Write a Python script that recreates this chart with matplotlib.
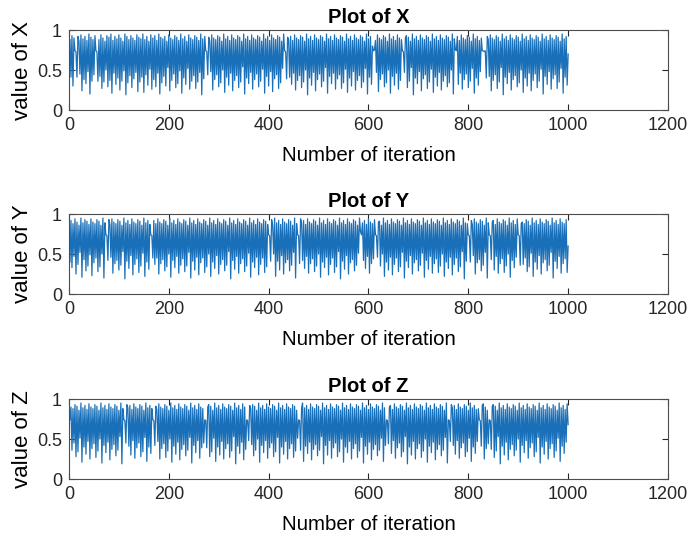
import matplotlib
matplotlib.use("Agg")
import matplotlib.pyplot as plt
import numpy as np

plt.rcParams["font.family"] = ["Liberation Sans", "DejaVu Sans"]

# values (in %), one sample per 2 iterations
x_vals = [
    88, 41, 93, 30, 90, 74, 73, 41, 92, 86, 45, 94, 24, 89, 38, 92, 33, 87, 48, 95, 20, 91, 36, 88, 44,
    93, 74, 73, 36, 88, 42, 94, 27, 90, 35, 86, 50, 93, 29, 91, 37, 95, 21, 87, 46, 92, 32, 89, 40, 94,
    25, 90, 36, 86, 49, 95, 19, 92, 34, 88, 43, 93, 28, 90, 39, 87, 47, 94, 23, 91, 35, 89, 41, 95, 22,
    88, 44, 92, 31, 86, 51, 94, 26, 90, 38, 93, 29, 87, 46, 95, 20, 91, 34, 89, 42, 92, 30, 86, 53, 94,
    24, 90, 37, 88, 45, 93, 28, 91, 33, 87, 49, 95, 21, 89, 40, 92, 32, 86, 52, 94, 26, 90, 36, 88, 43,
    93, 27, 91, 35, 87, 47, 95, 19, 89, 39, 92, 74, 73, 44, 91, 86, 48, 94, 25, 90, 38, 88, 44, 93, 29,
    91, 34, 86, 50, 95, 22, 89, 41, 92, 31, 87, 46, 94, 24, 90, 37, 88, 43, 93, 28, 91, 35, 86, 54, 95,
    20, 89, 40, 92, 33, 87, 47, 94, 26, 90, 38, 88, 45, 93, 29, 91, 36, 86, 51, 95, 21, 89, 42, 92, 30,
    87, 48, 94, 23, 90, 39, 88, 44, 93, 27, 91, 34, 86, 52, 95, 74, 73, 39, 91, 88, 41, 92, 32, 87, 46,
    94, 25, 90, 37, 88, 43, 93, 28, 91, 35, 86, 50, 95, 19, 89, 40, 92, 31, 87, 47, 94, 24, 90, 38, 88,
    45, 93, 29, 91, 36, 86, 53, 95, 21, 89, 42, 92, 33, 87, 46, 94, 26, 90, 39, 88, 44, 93, 27, 91, 34,
    86, 51, 95, 22, 89, 40, 92, 30, 87, 48, 94, 25, 90, 37, 88, 43, 93, 28, 91, 35, 86, 52, 95, 20, 89,
    41, 92, 32, 80, 74, 75, 87, 47, 94, 23, 90, 38, 88, 45, 93, 29, 91, 34, 86, 50, 95, 21, 89, 42, 92,
    31, 87, 46, 94, 26, 90, 37, 88, 74, 73, 47, 90, 93, 28, 91, 36, 86, 53, 95, 19, 89, 40, 92, 33, 87,
    48, 94, 24, 90, 39, 88, 44, 93, 27, 91, 35, 86, 51, 95, 22, 89, 41, 92, 30, 87, 47, 94, 25, 90, 36,
    88, 43, 93, 29, 91, 34, 86, 50, 95, 20, 89, 76, 74, 92, 32, 87, 46, 94, 26, 90, 38, 88, 45, 93, 28,
    91, 36, 86, 52, 95, 21, 89, 40, 92, 31, 87, 48, 90, 74, 74, 73, 74, 40, 92, 88, 42, 94, 24, 90, 37,
    88, 44, 93, 27, 91, 35, 86, 53, 95, 19, 89, 41, 92, 33, 87, 47, 94, 25, 90, 38, 88, 43, 93, 29, 91,
    34, 86, 50, 95, 22, 89, 40, 92, 30, 87, 46, 94, 24, 90, 37, 88, 45, 93, 28, 91, 36, 86, 51, 95, 20,
    89, 42, 92, 32, 87, 48, 94, 26, 90, 39, 88, 44, 93, 27, 91, 35, 86, 52, 95, 21, 89, 41, 92, 31, 70,
]

y_vals = [
    40, 92, 33, 88, 47, 94, 25, 90, 37, 86, 52, 95, 21, 89, 43, 93, 29, 91, 35, 87, 49, 94, 23, 90, 39,
    88, 45, 93, 28, 91, 34, 86, 50, 95, 20, 89, 74, 73, 42, 93, 87, 46, 94, 26, 90, 38, 88, 42, 93, 30,
    91, 36, 86, 53, 95, 19, 89, 41, 92, 32, 87, 48, 94, 24, 90, 37, 88, 44, 93, 27, 91, 35, 86, 51, 95,
    22, 89, 40, 92, 31, 87, 74, 73, 45, 92, 37, 88, 45, 94, 25, 90, 38, 88, 43, 93, 29, 91, 34, 86, 50,
    95, 21, 89, 42, 92, 33, 87, 47, 94, 26, 90, 36, 88, 44, 93, 28, 91, 35, 86, 52, 95, 20, 89, 41, 92,
    30, 87, 46, 94, 24, 90, 39, 88, 45, 93, 27, 91, 34, 86, 50, 95, 22, 89, 40, 92, 32, 87, 48, 94, 25,
    90, 37, 88, 43, 93, 29, 91, 36, 86, 53, 95, 19, 89, 42, 92, 31, 87, 47, 94, 26, 90, 38, 88, 44, 93,
    28, 91, 35, 86, 51, 95, 21, 89, 40, 92, 33, 87, 46, 94, 24, 90, 37, 88, 45, 93, 27, 91, 34, 87, 74,
    73, 41, 93, 86, 50, 95, 22, 89, 41, 92, 30, 87, 48, 94, 25, 90, 39, 88, 43, 93, 29, 91, 36, 86, 52,
    95, 20, 88, 74, 73, 38, 94, 89, 42, 92, 32, 87, 47, 94, 26, 90, 38, 88, 44, 93, 28, 91, 35, 86, 50,
    95, 21, 89, 40, 92, 33, 87, 46, 94, 24, 90, 37, 88, 45, 93, 27, 91, 34, 86, 53, 95, 19, 89, 41, 92,
    31, 87, 48, 94, 25, 90, 39, 88, 43, 93, 29, 91, 36, 86, 51, 95, 78, 74, 89, 42, 92, 32, 87, 47, 94,
    26, 90, 38, 88, 44, 93, 74, 73, 46, 90, 91, 35, 86, 50, 95, 22, 89, 40, 92, 30, 87, 46, 94, 24, 90,
    37, 88, 45, 93, 28, 91, 34, 86, 52, 95, 20, 89, 41, 92, 33, 87, 48, 94, 25, 90, 39, 88, 43, 93, 29,
    91, 36, 86, 51, 95, 21, 89, 42, 92, 31, 87, 47, 94, 26, 90, 38, 88, 44, 93, 27, 91, 35, 86, 50, 95,
    22, 89, 40, 92, 32, 87, 46, 94, 24, 90, 37, 88, 45, 93, 28, 91, 34, 86, 53, 95, 19, 89, 41, 88, 74,
    73, 40, 92, 87, 48, 94, 25, 90, 39, 88, 43, 93, 29, 91, 36, 86, 52, 95, 20, 89, 74, 73, 43, 90, 92,
    30, 87, 47, 94, 26, 90, 38, 88, 44, 93, 27, 91, 35, 86, 50, 95, 21, 89, 42, 92, 33, 87, 46, 94, 74,
    73, 36, 88, 90, 37, 88, 45, 93, 28, 91, 34, 86, 51, 95, 22, 89, 40, 92, 31, 87, 48, 94, 25, 90, 39,
    88, 43, 93, 29, 91, 36, 86, 52, 95, 20, 89, 41, 92, 32, 87, 47, 94, 26, 90, 38, 88, 44, 93, 27, 60,
]

z_vals = [
    74, 90, 36, 88, 45, 93, 28, 91, 34, 86, 51, 95, 21, 89, 40, 92, 31, 87, 47, 94, 25, 90, 38, 88, 44,
    93, 27, 91, 35, 86, 50, 95, 20, 89, 42, 92, 33, 87, 46, 94, 24, 90, 37, 88, 43, 93, 29, 91, 36, 86,
    53, 95, 19, 88, 74, 73, 45, 93, 89, 41, 92, 30, 87, 48, 94, 26, 90, 39, 88, 45, 93, 28, 91, 34, 86,
    52, 95, 22, 89, 40, 92, 32, 88, 74, 73, 42, 91, 87, 47, 94, 25, 90, 38, 88, 44, 93, 27, 91, 35, 86,
    50, 95, 21, 89, 41, 92, 31, 87, 46, 94, 24, 90, 37, 88, 43, 93, 29, 91, 36, 86, 52, 95, 20, 89, 42,
    92, 33, 87, 48, 94, 26, 90, 39, 88, 45, 74, 73, 39, 90, 93, 28, 91, 34, 86, 51, 95, 22, 89, 40, 92,
    30, 87, 47, 94, 25, 90, 38, 88, 44, 93, 27, 91, 35, 86, 53, 95, 19, 89, 41, 92, 32, 87, 46, 94, 24,
    90, 37, 74, 73, 48, 92, 88, 43, 93, 29, 91, 36, 86, 50, 95, 21, 89, 42, 92, 33, 87, 48, 94, 26, 90,
    39, 88, 45, 93, 28, 91, 34, 86, 52, 95, 20, 89, 40, 92, 31, 87, 47, 94, 25, 90, 38, 88, 44, 93, 27,
    91, 35, 86, 51, 74, 73, 36, 89, 95, 22, 89, 41, 92, 32, 87, 46, 94, 24, 90, 37, 88, 43, 93, 29, 91,
    36, 86, 53, 95, 19, 89, 42, 92, 30, 87, 48, 94, 26, 90, 39, 88, 45, 93, 28, 91, 34, 86, 50, 95, 21,
    89, 40, 92, 33, 87, 47, 94, 25, 90, 38, 88, 44, 93, 27, 91, 35, 86, 52, 95, 20, 89, 41, 92, 31, 87,
    46, 94, 24, 90, 37, 88, 43, 93, 29, 91, 36, 86, 51, 95, 22, 89, 42, 74, 73, 44, 90, 92, 32, 87, 48,
    94, 26, 90, 39, 88, 45, 93, 28, 91, 34, 86, 53, 95, 19, 89, 40, 92, 30, 87, 47, 94, 25, 90, 38, 88,
    44, 93, 27, 91, 35, 86, 50, 95, 21, 89, 41, 92, 33, 87, 46, 94, 24, 90, 37, 88, 43, 93, 29, 91, 36,
    86, 52, 95, 20, 74, 73, 47, 93, 89, 42, 92, 31, 87, 48, 94, 26, 90, 39, 88, 45, 93, 28, 91, 34, 86,
    51, 95, 22, 89, 40, 92, 32, 87, 47, 88, 74, 73, 41, 92, 94, 25, 90, 38, 86, 44, 74, 73, 37, 91, 93,
    27, 91, 35, 86, 53, 95, 19, 89, 41, 92, 30, 87, 46, 94, 24, 90, 37, 88, 43, 93, 29, 91, 36, 86, 50,
    95, 21, 89, 42, 92, 33, 87, 48, 94, 26, 90, 39, 88, 45, 93, 28, 91, 34, 86, 52, 95, 20, 89, 40, 92,
    31, 87, 47, 94, 25, 90, 38, 88, 44, 93, 27, 91, 35, 86, 51, 95, 22, 89, 41, 92, 32, 87, 46, 94, 68,
]

names = ["X", "Y", "Z"]
series = [x_vals, y_vals, z_vals]

fig = plt.figure(figsize=(6.89, 5.39), dpi=100)
bottoms = [0.7959, 0.4545, 0.1113]

for name, vals, b in zip(names, series, bottoms):
    ax = fig.add_axes([0.1001, b, 0.8694, 0.1484])
    v = np.array(vals) / 100.0
    it = np.arange(1, len(v) + 1) * 2
    ax.plot(it, v, color="#1a70b8", linewidth=0.9)

    ax.set_xlim(0, 1200)
    ax.set_ylim(0, 1)
    ax.set_xticks(np.arange(0, 1201, 200))
    ax.set_yticks([0, 0.5, 1])
    ax.set_yticklabels(["0", "0.5", "1"])
    ax.tick_params(direction="in", top=True, right=True, length=4,
                   labelsize=13, pad=5, colors="#262626")
    for s in ax.spines.values():
        s.set_color("#4d4d4d")
        s.set_linewidth(0.8)

    ax.set_title("Plot of " + name, fontsize=14.5, fontweight="bold", pad=5)
    ax.set_xlabel("Number of iteration", fontsize=14.8, labelpad=9)
    ax.set_ylabel("value of " + name, fontsize=16, labelpad=3)

fig.savefig("out.png", dpi=100)
